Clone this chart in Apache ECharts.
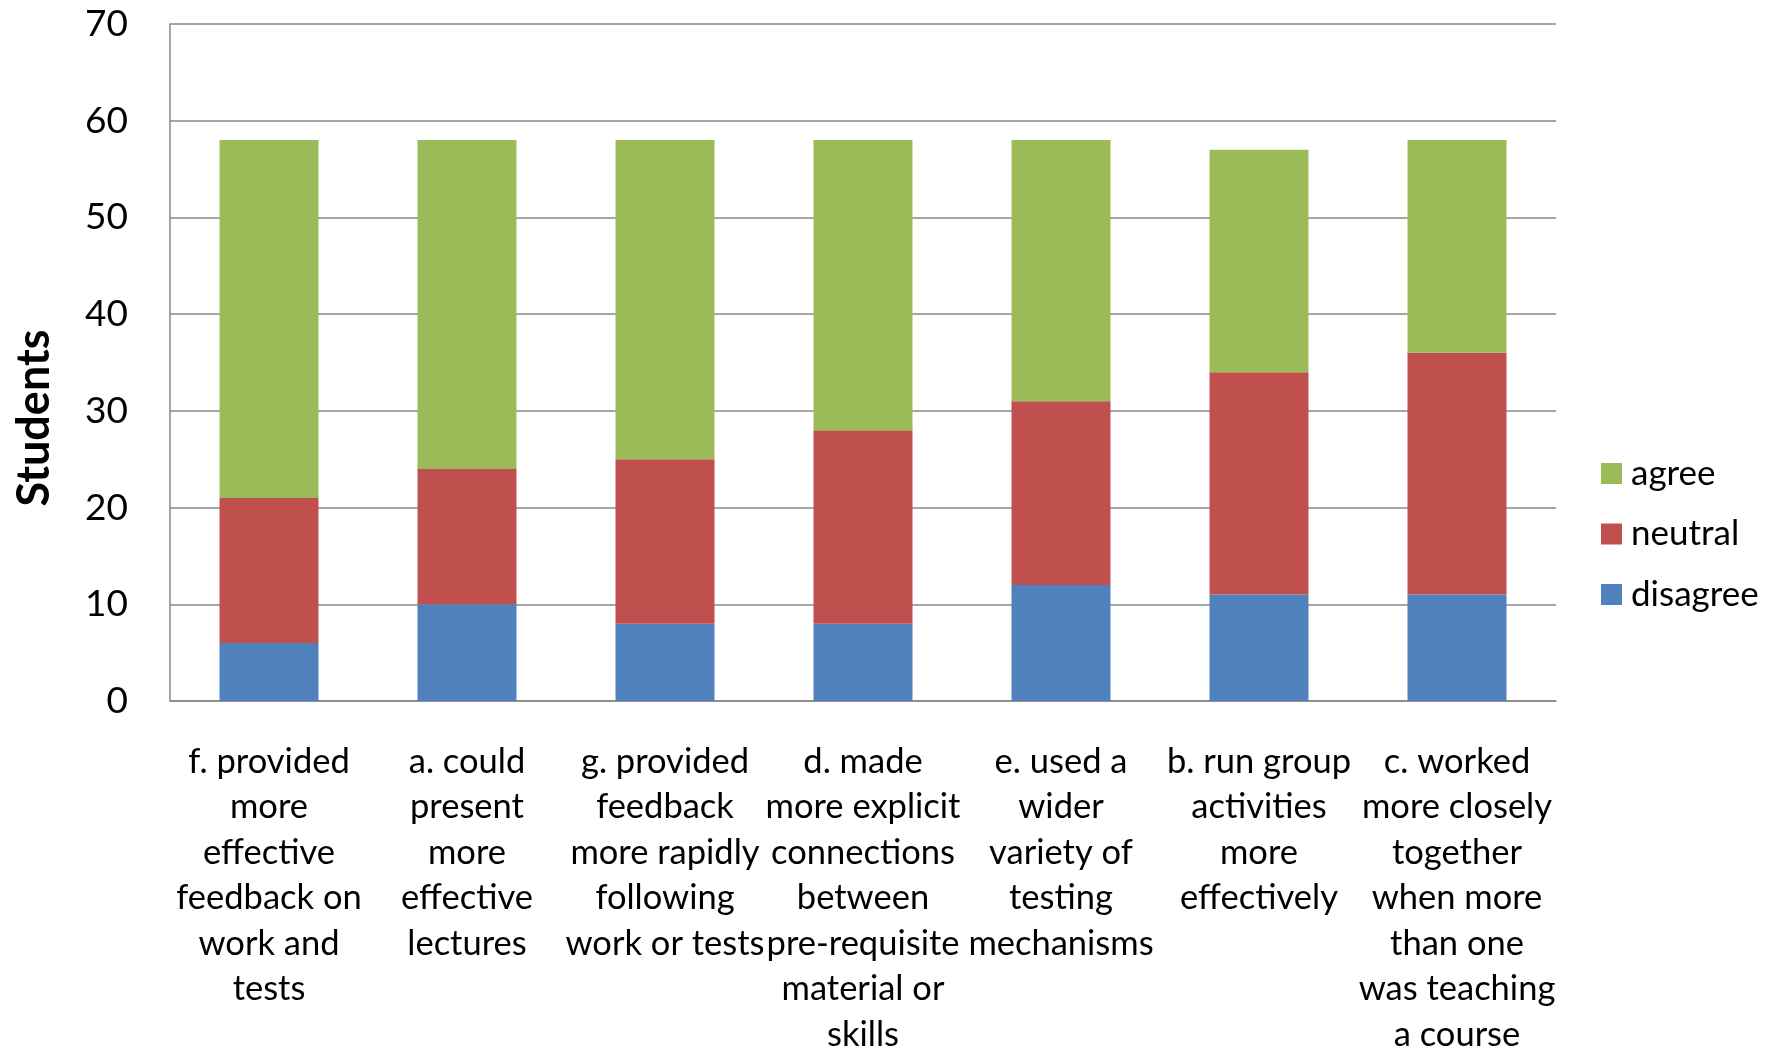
<!DOCTYPE html>
<html>
<head>
<meta charset="utf-8">
<script src="https://cdn.jsdelivr.net/npm/echarts@6/dist/echarts.min.js"></script>
<style>
  html, body { margin: 0; padding: 0; background: #fff; }
  #chart { width: 1771px; height: 1050px; }
</style>
</head>
<body>
<div id="chart"></div>
<script>
// Survey statements (x categories)
const categories = [
  'f. provided\nmore\neffective\nfeedback on\nwork and\ntests',
  'a. could\npresent\nmore\neffective\nlectures',
  'g. provided\nfeedback\nmore rapidly\nfollowing\nwork or tests',
  'd. made\nmore explicit\nconnections\nbetween\npre-requisite\nmaterial or\nskills',
  'e. used a\nwider\nvariety of\ntesting\nmechanisms',
  'b. run group\nactivities\nmore\neffectively',
  'c. worked\nmore closely\ntogether\nwhen more\nthan one\nwas teaching\na course'
];

// Number of students per response
const disagree = [6, 10, 8, 8, 12, 11, 11];
const neutral  = [15, 14, 17, 20, 19, 23, 25];
const agree    = [37, 34, 33, 30, 27, 23, 22];

const yTicks = { min: 0, max: 70, interval: 10 };

const FONT = 'Lato, "Open Sans", sans-serif';
const GRID_GRAY = '#878787';

const chart = echarts.init(document.getElementById('chart'), null, { renderer: 'canvas' });

function barSeries(name, data, color) {
  return {
    name: name,
    type: 'bar',
    stack: 'total',
    data: data,
    barCategoryGap: '50%',
    itemStyle: { color: color },
    emphasis: { disabled: true }
  };
}

chart.setOption({
  animation: false,
  backgroundColor: '#ffffff',
  grid: {
    left: 170, right: 215, top: 24, bottom: 349,
    containLabel: false,
    outerBoundsMode: 'none'
  },
  legend: {
    data: ['agree', 'neutral', 'disagree'],
    orient: 'vertical',
    left: 1601,
    top: 456,
    padding: 0,
    itemWidth: 21,
    itemHeight: 21,
    itemGap: 25.5,
    icon: 'rect',
    selectedMode: false,
    textStyle: {
      fontFamily: FONT, fontSize: 35,
      color: '#000', padding: [0, 0, 0, 4]
    }
  },
  xAxis: {
    type: 'category',
    data: categories,
    axisLine: { show: true, lineStyle: { color: GRID_GRAY, width: 1.5 } },
    axisTick: { show: false },
    axisLabel: {
      interval: 0,
      margin: 38,
      fontFamily: FONT,
      fontSize: 34.5,
      lineHeight: 45.5,
      color: '#000',
      align: 'center',
      verticalAlign: 'top'
    }
  },
  yAxis: {
    type: 'value',
    min: yTicks.min,
    max: yTicks.max,
    interval: yTicks.interval,
    axisLine: { show: true, lineStyle: { color: GRID_GRAY, width: 1.5 } },
    axisTick: { show: false },
    splitLine: { show: true, lineStyle: { color: GRID_GRAY, width: 1.5 } },
    axisLabel: {
      margin: 42,
      fontFamily: FONT,
      fontSize: 37,
      color: '#000'
    }
  },
  graphic: [{
    type: 'text',
    x: 34,
    y: 418,
    rotation: Math.PI / 2,
    style: {
      text: 'Students',
      fontFamily: FONT,
      fontSize: 45,
      fontWeight: 'bold',
      fill: '#000',
      align: 'center',
      verticalAlign: 'middle'
    }
  }],
  series: [
    barSeries('disagree', disagree, '#4F81BD'),
    barSeries('neutral', neutral, '#C0504D'),
    barSeries('agree', agree, '#9BBB59')
  ]
});
</script>
</body>
</html>
